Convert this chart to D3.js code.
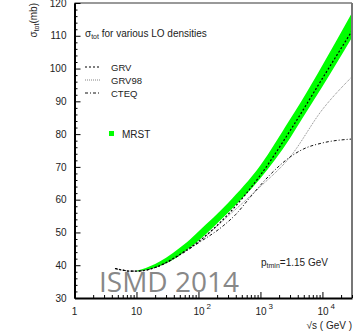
<!DOCTYPE html>
<html>
<head>
<meta charset="utf-8">
<script src="https://cdn.jsdelivr.net/npm/d3@7"></script>
<style>
  html, body { margin: 0; padding: 0; background: #fff; }
  svg { display: block; font-family: "Liberation Sans", Arial, Helvetica, sans-serif; }
</style>
</head>
<body>
<svg id="chart" width="360" height="334"></svg>
<script>
// Total cross section vs sqrt(s) (GeV) for several LO parton densities
const sqrtS = [4.5, 6, 8, 10, 15, 20, 30, 50, 100, 300, 1000, 3000, 10000, 30000];
const grv   = [39.0, 38.5, 38.2, 38.2, 38.6, 39.3, 40.8, 43.3, 47.2, 55.5, 67.5, 81.0, 97.0, 111.5];
const grv98 = [39.0, 38.5, 38.2, 38.2, 38.6, 39.3, 40.8, 43.3, 47.1, 55.0, 64.0, 73.0, 87.5, 97.5];

const cteqS = [4.5, 6, 8, 10, 15, 20, 30, 50, 100, 250, 400, 700, 1500, 3000, 5000, 10000, 30000];
const cteq  = [39.0, 38.5, 38.2, 38.2, 38.6, 39.3, 40.7, 43.1, 46.8, 52.0, 55.5, 61.0, 68.0, 73.0, 75.5, 77.3, 78.5];

// MRST band: lower and upper edges
const mrstS     = [10, 20, 30, 50, 65, 100, 300, 1000, 2950, 4570, 10000, 30000];
const mrstLower = [38.1, 39.2, 40.6, 43.0, 44.7, 47.5, 56.0, 66.5, 78.5, 84.3, 94.5, 109.5];
const mrstUpper = [38.3, 40.4, 42.3, 45.3, 47.0, 50.3, 59.0, 70.5, 84.3, 90.0, 101.0, 117.0];

const yTicks = [30, 40, 50, 60, 70, 80, 90, 100, 110, 120];
const xTicks = [1, 10, 100, 1000, 10000];
const xTickExp = [null, null, 2, 3, 4];

const svg = d3.select("#chart");
const L = 74.5, R = 352, T = 3, B = 298;

const x = d3.scaleLog().domain([1, 30000]).range([L, R]);
const y = d3.scaleLinear().domain([30, 120]).range([B, T]);

svg.append("defs").append("clipPath").attr("id", "plot")
  .append("rect").attr("x", L).attr("y", T).attr("width", R - L).attr("height", B - T);

const g = svg.append("g").attr("clip-path", "url(#plot)");

// MRST band
g.append("path")
  .datum(mrstS.map((s, i) => ({ s, lo: mrstLower[i], hi: mrstUpper[i] })))
  .attr("fill", "#00ff00")
  .attr("d", d3.area().curve(d3.curveMonotoneX)
    .x(d => x(d.s)).y0(d => y(d.lo)).y1(d => y(d.hi)));

const line = d3.line().curve(d3.curveMonotoneX).x(d => x(d[0])).y(d => y(d[1]));

g.append("path").datum(sqrtS.map((s, i) => [s, grv98[i]]))
  .attr("fill", "none").attr("stroke", "#666").attr("stroke-width", 0.8)
  .attr("stroke-dasharray", "1,1").attr("d", line);
g.append("path").datum(cteqS.map((s, i) => [s, cteq[i]]))
  .attr("fill", "none").attr("stroke", "#111").attr("stroke-width", 1)
  .attr("stroke-dasharray", "3,2,1,2").attr("d", line);
g.append("path").datum(sqrtS.map((s, i) => [s, grv[i]]))
  .attr("fill", "none").attr("stroke", "#000").attr("stroke-width", 1.2)
  .attr("stroke-dasharray", "2,2").attr("d", line);

// Frame: top and right in grey
svg.append("line").attr("x1", L).attr("x2", R).attr("y1", T).attr("y2", T)
  .attr("stroke", "#777").attr("stroke-width", 1.5);
svg.append("line").attr("x1", R).attr("x2", R).attr("y1", T).attr("y2", B)
  .attr("stroke", "#777").attr("stroke-width", 2);

// Y axis
const yMinor = d3.range(32, 120, 2).filter(v => v % 10 !== 0);
svg.append("g").attr("transform", `translate(${L},0)`)
  .call(d3.axisLeft(y).tickValues(yMinor).tickSize(-3).tickFormat(""))
  .call(a => a.select(".domain").remove())
  .call(a => a.selectAll("line").attr("stroke", "#000"));
const yAxis = svg.append("g").attr("transform", `translate(${L},0)`)
  .call(d3.axisLeft(y).tickValues(yTicks).tickSize(-6).tickSizeOuter(0).tickPadding(8))
  .call(a => a.select(".domain").attr("stroke", "#000").attr("stroke-width", 2));
yAxis.selectAll("text").attr("font-size", 10).attr("fill", "#222")
  .attr("font-family", "Liberation Sans, Arial, sans-serif");

// X axis
const xMinor = [];
[1, 10, 100, 1000, 10000].forEach(d => { for (let k = 2; k <= 9; k++) if (d * k <= 30000) xMinor.push(d * k); });
svg.append("g").attr("transform", `translate(0,${B})`)
  .call(d3.axisBottom(x).tickValues(xMinor).tickSize(-3).tickFormat(""))
  .call(a => a.select(".domain").remove())
  .call(a => a.selectAll("line").attr("stroke", "#000"));
svg.append("g").attr("transform", `translate(0,${B})`)
  .call(d3.axisBottom(x).tickValues(xTicks).tickSize(-6).tickSizeOuter(0).tickFormat(""))
  .call(a => a.select(".domain").attr("stroke", "#000").attr("stroke-width", 2));

const xl = svg.append("g").attr("font-size", 10).attr("fill", "#222");
xTicks.forEach((t, i) => {
  const txt = xl.append("text").attr("y", 315).attr("fill", "#222");
  if (xTickExp[i] === null) {
    txt.attr("x", x(t)).attr("text-anchor", "middle").text(String(t));
  } else {
    txt.attr("x", x(t) - 5).text("10");
    txt.append("tspan").attr("dx", 2).attr("dy", -6).attr("font-size", 8).text(xTickExp[i]);
  }
});

// Axis titles
svg.append("text").attr("x", 352).attr("y", 329).attr("text-anchor", "end")
  .attr("font-size", 10).attr("fill", "#222").text("√s ( GeV )");
const yt = svg.append("text").attr("transform", "translate(37,3) rotate(-90)")
  .attr("text-anchor", "end").attr("font-size", 10).attr("fill", "#222");
yt.append("tspan").text("σ");
yt.append("tspan").attr("font-size", 7).attr("dy", 2).text("tot");
yt.append("tspan").attr("dy", -2).text("(mb)");

// Title inside the frame
const ti = svg.append("text").attr("x", 85).attr("y", 37).attr("font-size", 10).attr("fill", "#222");
ti.append("tspan").text("σ");
ti.append("tspan").attr("font-size", 7).attr("dy", 2).text("tot");
ti.append("tspan").attr("dy", -2).text("  for various LO densities");

// Legend
const legend = [
  { name: "GRV", y: 67, stroke: "#000", w: 1.2, dash: "2,2" },
  { name: "GRV98", y: 80, stroke: "#666", w: 0.8, dash: "1,1" },
  { name: "CTEQ", y: 93, stroke: "#111", w: 1, dash: "3,2,1,2" }
];
legend.forEach(d => {
  svg.append("line").attr("x1", 85).attr("x2", 100).attr("y1", d.y).attr("y2", d.y)
    .attr("stroke", d.stroke).attr("stroke-width", d.w).attr("stroke-dasharray", d.dash);
  svg.append("text").attr("x", 111).attr("y", d.y + 3.5).attr("font-size", 9.5)
    .attr("fill", "#222").text(d.name);
});
svg.append("rect").attr("x", 109).attr("y", 131).attr("width", 5).attr("height", 5).attr("fill", "#00ff00");
svg.append("text").attr("x", 122).attr("y", 137.5).attr("font-size", 10).attr("fill", "#222").text("MRST");

// Cut-off annotation
const pt = svg.append("text").attr("x", 261).attr("y", 266).attr("font-size", 10).attr("fill", "#222");
pt.append("tspan").text("p");
pt.append("tspan").attr("font-size", 7).attr("dy", 2).text("tmin");
pt.append("tspan").attr("dy", -2).text("=1.15 GeV");

// Conference mark
svg.append("text").attr("x", 99).attr("y", 292).attr("font-family", "Open Sans, sans-serif")
  .attr("font-size", 28).attr("fill", "#888").text("ISMD 2014");
</script>
</body>
</html>
